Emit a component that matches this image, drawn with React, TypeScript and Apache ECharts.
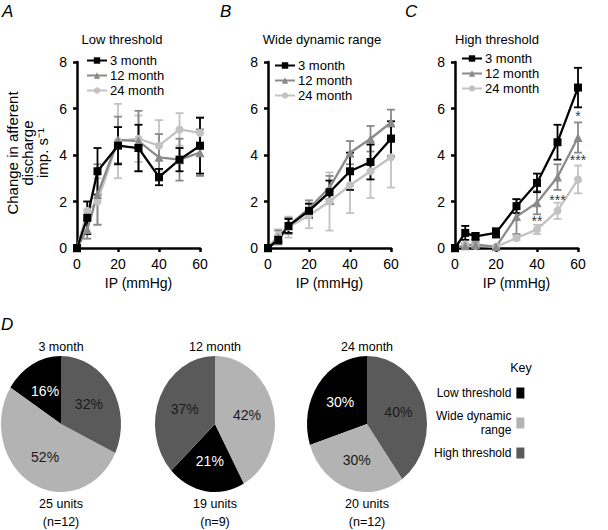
import React, { useEffect, useRef } from "react";
import * as echarts from "echarts";

// ---------- Data ----------
const ipLevels = [0, 5, 10, 20, 30, 40, 50, 60];
const ageGroups = ["3 month", "12 month", "24 month"];
const panelTitles = ["Low threshold", "Wide dynamic range", "High threshold"];
const panelLetters = ["A", "B", "C"];
const yAxisTitle = "Change in afferent\ndischarge\nimp. s⁻¹";

// Panel A: Low threshold
const lowMean3 = [0, 1.3, 3.3, 4.4, 4.3, 3.05, 3.8, 4.4];
const lowErr3 = [0, 0.7, 1.0, 0.8, 1.0, 0.35, 0.5, 1.2];
const lowMean12 = [0, 0.8, 2.3, 4.65, 4.6, 3.9, 3.8, 4.1];
const lowErr12 = [0, 0.4, 1.3, 1.0, 1.3, 1.0, 0.9, 1.0];
const lowMean24 = [0, 1.6, 2.0, 4.6, 4.7, 4.4, 5.1, 4.95];
const lowErr24 = [0, 0.4, 1.0, 1.6, 1.0, 1.1, 0.7, 0.7];

// Panel B: Wide dynamic range
const wdrMean3 = [0, 0.35, 0.95, 1.6, 2.4, 3.3, 3.7, 4.7];
const wdrErr3 = [0, 0.15, 0.3, 0.3, 0.5, 0.8, 0.75, 0.75];
const wdrMean12 = [0, 0.45, 0.95, 1.7, 2.6, 4.1, 4.7, 5.4];
const wdrErr12 = [0, 0.3, 0.35, 0.35, 0.5, 0.5, 0.55, 0.55];
const wdrMean24 = [0, 0.55, 0.9, 1.4, 2.0, 2.7, 3.3, 3.9];
const wdrErr24 = [0, 0.25, 0.45, 0.55, 1.25, 1.2, 1.15, 1.3];

// Panel C: High threshold
const highMean3 = [0, 0.65, 0.5, 0.65, 1.8, 2.8, 4.55, 6.9];
const highErr3 = [0, 0.3, 0.15, 0.2, 0.3, 0.4, 0.75, 0.85];
const highMean12 = [0, 0.1, 0.15, 0.05, 1.35, 1.95, 3.05, 4.75];
const highErr12 = [0, 0.1, 0.1, 0.05, 0.75, 0.5, 0.55, 0.65];
const highMean24 = [0, 0.15, 0.1, 0.05, 0.43, 0.8, 1.6, 2.95];
const highErr24 = [0, 0.05, 0.05, 0.05, 0.1, 0.2, 0.35, 0.6];

// Significance markers (panel C)
const sigX = [60, 60, 50, 40];
const sigY = [5.8, 3.9, 2.2, 1.3];
const sigText = ["*", "***", "***", "**"];

// Panel D: pies
const pieTitles = ["3 month", "12 month", "24 month"];
const pieUnits = ["25 units", "19 units", "20 units"];
const pieN = ["(n=12)", "(n=9)", "(n=12)"];
const categoryNames = ["Low threshold", "Wide dynamic\nrange", "High threshold"];
const lowPct = [16, 21, 30];
const wdrPct = [52, 42, 30];
const highPct = [32, 37, 40];
// clockwise order from 12 o'clock, as category indices (0 low, 1 wdr, 2 high)
const pieOrder = [
  [2, 1, 0],
  [1, 0, 2],
  [2, 1, 0],
];

// ---------- Styles ----------
const FONT = "Liberation Sans, Arial, Helvetica, sans-serif";
const lineColors = ["#000000", "#8a8a8a", "#c2c2c2"];
const symbols = ["rect", "triangle", "circle"];
const symbolSizes = [8, 9, 8];
const catColors = ["#000000", "#b3b3b3", "#5a5a5a"];
const catTextColors = ["#ffffff", "#1a1a1a", "#1a1a1a"];
const gridLefts = [77, 268, 455];
const titleCenters = [122, 322, 497];
const pieCx = [61, 215, 367];
const pieCy = 424;
const pieRx = 60;
const pieRy = 68;

const panelMeans = [
  [lowMean3, lowMean12, lowMean24],
  [wdrMean3, wdrMean12, wdrMean24],
  [highMean3, highMean12, highMean24],
];
const panelErrs = [
  [lowErr3, lowErr12, lowErr24],
  [wdrErr3, wdrErr12, wdrErr24],
  [highErr3, highErr12, highErr24],
];

function buildOption() {
  const grids: any[] = [];
  const xAxes: any[] = [];
  const yAxes: any[] = [];
  const series: any[] = [];
  const legends: any[] = [];
  const titles: any[] = [];

  const legendTops = [54, 59, 52];
  const legendLefts = [86, 274, 461];

  for (let p = 0; p < 3; p++) {
    grids.push({ left: gridLefts[p], top: 62, width: 123, height: 186 });
    xAxes.push({
      gridIndex: p,
      type: "value",
      min: 0,
      max: 60,
      interval: 20,
      name: "IP (mmHg)",
      nameLocation: "middle",
      nameGap: 28,
      nameTextStyle: { fontSize: 14, color: "#000", fontFamily: FONT },
      axisLine: { lineStyle: { color: "#000", width: 2.5 } },
      axisTick: { length: 4, lineStyle: { color: "#000", width: 2.5 } },
      axisLabel: { fontSize: 14, color: "#000", margin: 9, fontFamily: FONT },
      splitLine: { show: false },
    });
    yAxes.push({
      gridIndex: p,
      type: "value",
      min: 0,
      max: 8,
      interval: 2,
      axisLine: { show: true, lineStyle: { color: "#000", width: 2.5 } },
      axisTick: { show: true, length: 4, lineStyle: { color: "#000", width: 2.5 } },
      axisLabel: { fontSize: 14, color: "#000", margin: 10, fontFamily: FONT },
      splitLine: { show: false },
    });

    legends.push({
      data: ageGroups,
      orient: "vertical",
      left: legendLefts[p],
      top: legendTops[p],
      padding: 0,
      itemGap: 2,
      itemWidth: 20,
      itemHeight: 8,
      selectedMode: false,
      textStyle: { fontSize: 13, color: "#000", fontFamily: FONT, padding: [0, 0, 0, -2] },
    });

    titles.push({
      text: panelTitles[p],
      left: titleCenters[p],
      top: 33,
      padding: 0,
      textAlign: "center",
      textStyle: { fontSize: 13, fontWeight: "normal", color: "#000", fontFamily: FONT },
    });
    titles.push({
      text: panelLetters[p],
      left: [2, 220, 405][p],
      top: 3,
      padding: 0,
      textStyle: { fontSize: 17, fontStyle: "italic", fontWeight: "normal", color: "#000", fontFamily: FONT },
    });

    for (let s = 2; s >= 0; s--) {
      const mean = panelMeans[p][s];
      const err = panelErrs[p][s];
      const color = lineColors[s];
      series.push({
        type: "custom",
        name: "err-" + p + "-" + s,
        xAxisIndex: p,
        yAxisIndex: p,
        z: 2,
        silent: true,
        encode: { x: 0, y: [1, 2] },
        data: ipLevels
          .map((x, i) => [x, mean[i] - err[i], mean[i] + err[i]])
          .filter((d, i) => err[i] > 0 && ipLevels[i] > 0),
        renderItem: (params: any, api: any) => {
          const x = api.value(0);
          const top = api.coord([x, api.value(2)]);
          const bot = api.coord([x, api.value(1)]);
          const hw = 4;
          const st = { stroke: color, lineWidth: 1.8 };
          return {
            type: "group",
            children: [
              { type: "line", shape: { x1: top[0], y1: top[1], x2: bot[0], y2: bot[1] }, style: st },
              { type: "line", shape: { x1: top[0] - hw, y1: top[1], x2: top[0] + hw, y2: top[1] }, style: st },
              { type: "line", shape: { x1: bot[0] - hw, y1: bot[1], x2: bot[0] + hw, y2: bot[1] }, style: st },
            ],
          };
        },
      });
      series.push({
        type: "line",
        name: ageGroups[s],
        xAxisIndex: p,
        yAxisIndex: p,
        z: 3,
        data: ipLevels.map((x, i) => [x, mean[i]]),
        symbol: symbols[s],
        symbolSize: symbolSizes[s],
        showAllSymbol: true,
        color: color,
        itemStyle: { color: color },
        lineStyle: { color: color, width: 2.3 },
      });
    }
  }

  // significance markers
  series.push({
    type: "scatter",
    name: "sig",
    xAxisIndex: 2,
    yAxisIndex: 2,
    symbolSize: 1,
    itemStyle: { color: "transparent" },
    z: 5,
    silent: true,
    data: sigX.map((x, i) => ({ value: [x, sigY[i]], label: { formatter: sigText[i] } })),
    label: {
      show: true,
      position: "inside",
      offset: [0, 3],
      fontSize: 14,
      color: "#000",
      fontFamily: FONT,
    },
  });

  // Pies: one custom series per category
  const pctByCat = [lowPct, wdrPct, highPct];
  for (let c = 0; c < 3; c++) {
    const data: any[] = [];
    for (let k = 0; k < 3; k++) {
      const order = pieOrder[k];
      let start = 0;
      for (const idx of order) {
        if (idx === c) break;
        start += pctByCat[idx][k];
      }
      data.push([k, start, pctByCat[c][k]]);
    }
    const fill = catColors[c];
    const textFill = catTextColors[c];
    series.push({
      type: "custom",
      name: categoryNames[c],
      coordinateSystem: "none",
      color: fill,
      itemStyle: { color: fill },
      silent: true,
      data,
      renderItem: (params: any, api: any) => {
        const k = api.value(0);
        const start = api.value(1) / 100;
        const frac = api.value(2) / 100;
        const a0 = -Math.PI / 2 + start * 2 * Math.PI;
        const a1 = -Math.PI / 2 + (start + frac) * 2 * Math.PI;
        const mid = (a0 + a1) / 2;
        const cx = pieCx[k];
        const lf = 0.55;
        return {
          type: "group",
          children: [
            {
              type: "sector",
              x: cx,
              y: pieCy,
              scaleY: pieRy / pieRx,
              shape: { cx: 0, cy: 0, r: pieRx, r0: 0, startAngle: a0, endAngle: a1, clockwise: true },
              style: { fill },
            },
            {
              type: "text",
              x: cx + Math.cos(mid) * pieRx * lf,
              y: pieCy + Math.sin(mid) * pieRy * lf,
              style: {
                text: api.value(2) + "%",
                fill: textFill,
                fontSize: 14,
                fontFamily: FONT,
                align: "center",
                verticalAlign: "middle",
              },
            },
          ],
        };
      },
    });
  }

  legends.push({
    data: categoryNames,
    orient: "vertical",
    left: 434,
    top: 386,
    padding: 0,
    align: "right",
    icon: "rect",
    itemWidth: 8,
    itemHeight: 11,
    itemGap: 9,
    selectedMode: false,
    textStyle: { fontSize: 12, lineHeight: 14, color: "#000", fontFamily: FONT, width: 74 },
  });

  // Pie titles etc.
  for (let k = 0; k < 3; k++) {
    titles.push({
      text: pieTitles[k],
      left: pieCx[k],
      top: 340,
      padding: 0,
      textAlign: "center",
      textStyle: { fontSize: 12.5, fontWeight: "normal", color: "#000", fontFamily: FONT },
    });
    titles.push({
      text: pieUnits[k] + "\n" + pieN[k],
      left: pieCx[k],
      top: 495,
      padding: 0,
      textAlign: "center",
      textStyle: { fontSize: 12.5, lineHeight: 18, fontWeight: "normal", color: "#000", fontFamily: FONT },
    });
  }
  titles.push({
    text: "Key",
    left: 521,
    top: 361,
    padding: 0,
    textAlign: "center",
    textStyle: { fontSize: 12.5, fontWeight: "normal", color: "#000", fontFamily: FONT },
  });
  titles.push({
    text: "D",
    left: 1,
    top: 316,
    padding: 0,
    textStyle: { fontSize: 17, fontStyle: "italic", fontWeight: "normal", color: "#000", fontFamily: FONT },
  });

  return {
    animation: false,
    backgroundColor: "#ffffff",
    textStyle: { fontFamily: FONT },
    title: titles,
    legend: legends,
    grid: grids,
    xAxis: xAxes,
    yAxis: yAxes,
    graphic: [
      {
        type: "text",
        x: 27,
        y: 153,
        rotation: Math.PI / 2,
        silent: true,
        style: {
          text: yAxisTitle,
          fontSize: 15,
          lineHeight: 15,
          fill: "#000",
          fontFamily: FONT,
          align: "center",
          verticalAlign: "middle",
        },
      },
    ],
    series,
  };
}

export default function App() {
  const ref = useRef<HTMLDivElement>(null);
  useEffect(() => {
    if (!ref.current) return;
    const chart = echarts.init(ref.current, undefined, { renderer: "svg" });
    chart.setOption(buildOption() as any);
    return () => chart.dispose();
  }, []);
  return <div ref={ref} style={{ width: 608, height: 530, position: "absolute", left: 0, top: 0 }} />;
}
